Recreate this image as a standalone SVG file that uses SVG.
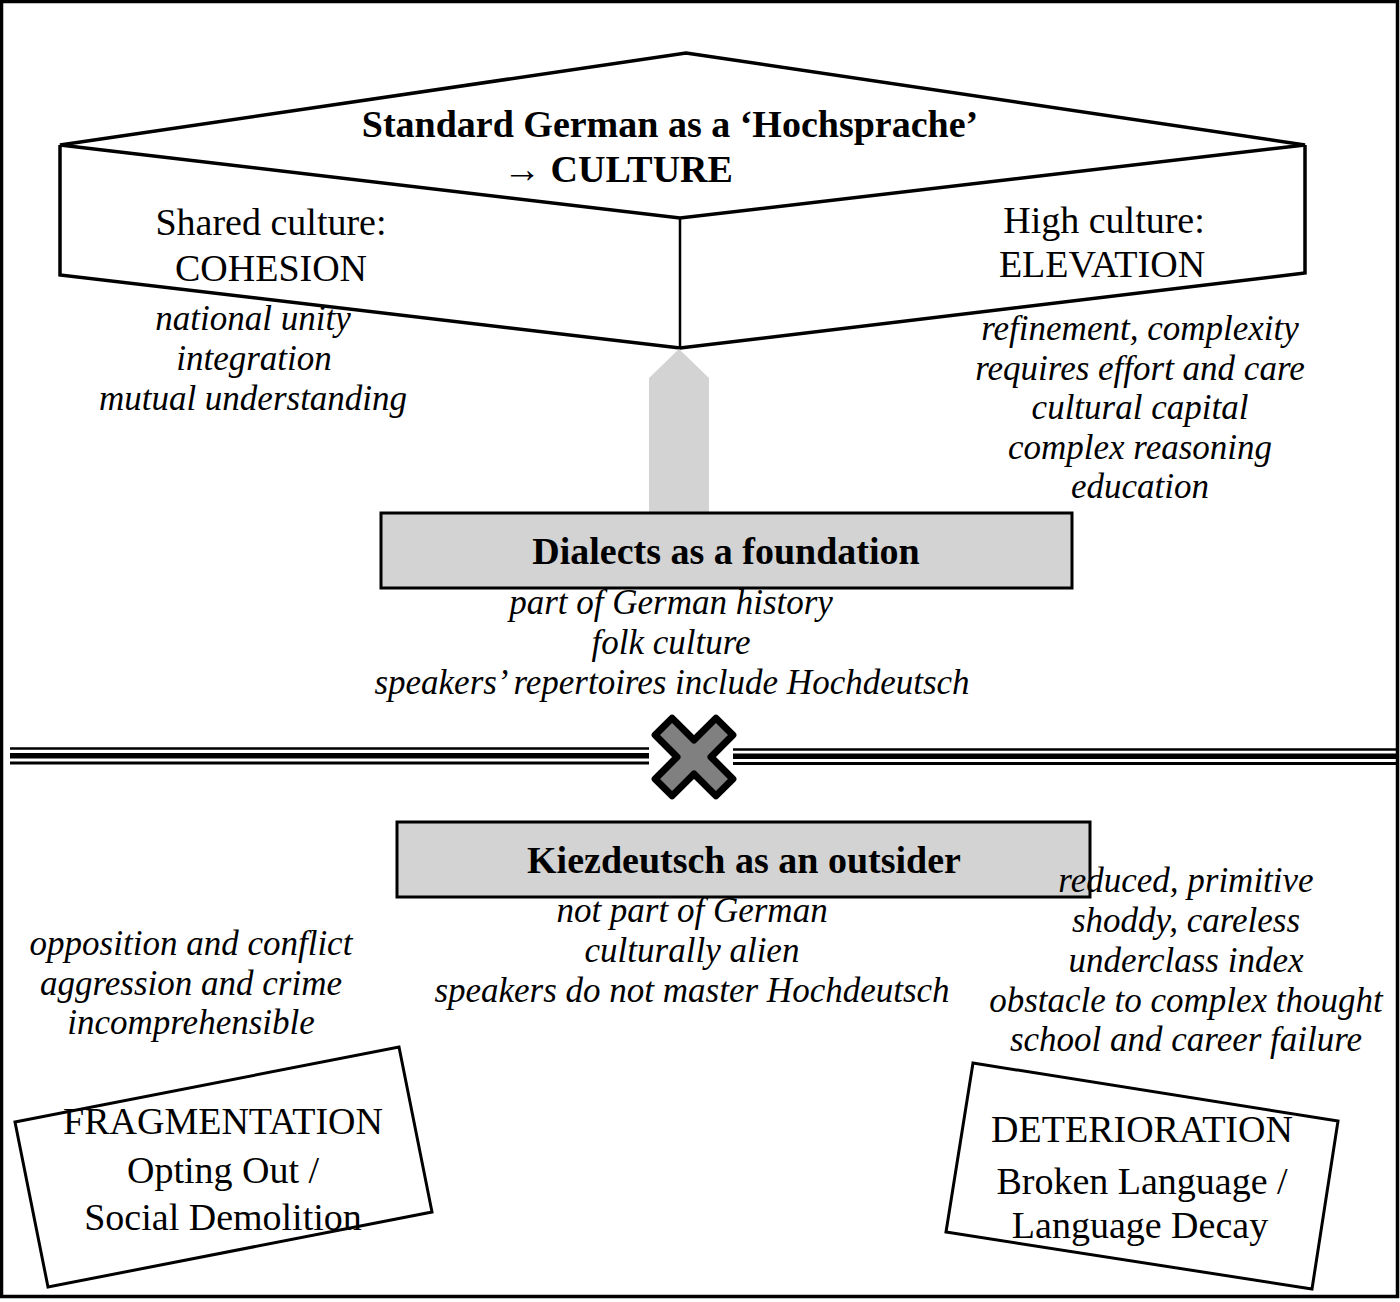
<svg xmlns="http://www.w3.org/2000/svg" width="1400" height="1302" viewBox="0 0 1400 1302">
<style>
text{font-family:"Liberation Serif","Times New Roman",serif;fill:#000;text-anchor:middle}
.b{font-weight:bold;font-size:38px}
.r{font-size:38px}
.i{font-style:italic;font-size:35px}
.ln{fill:none;stroke:#000;stroke-width:3.5;stroke-linejoin:miter}
.box{fill:#d3d3d3;stroke:#000;stroke-width:3}
.tilt{fill:#fff;stroke:#000;stroke-width:3}
</style>
<rect x="1.5" y="1.5" width="1396" height="1295" fill="#fff" stroke="#000" stroke-width="3.5"/>

<g id="standard-german">
<polygon class="ln" points="686,53 1305,145 680,218 60,145"/>
<polyline class="ln" points="60,145 60,275 680,348 1305,273 1305,145"/>
<line x1="680" y1="218" x2="680" y2="348" stroke="#000" stroke-width="2.5"/>
<text class="b" x="670" y="137">Standard German as a ‘Hochsprache’</text>
<text class="b" x="618" y="182">→ CULTURE</text>
<text class="r" x="271" y="235">Shared culture:</text>
<text class="r" x="271" y="281">COHESION</text>
<text class="r" x="1104" y="233">High culture:</text>
<text class="r" x="1102" y="277">ELEVATION</text>
</g>

<g id="cohesion-list">
<text class="i" x="253" y="330">national unity</text>
<text class="i" x="254" y="370">integration</text>
<text class="i" x="253" y="410">mutual understanding</text>
</g>

<g id="elevation-list">
<text class="i" x="1140" y="340">refinement, complexity</text>
<text class="i" x="1140" y="380">requires effort and care</text>
<text class="i" x="1140" y="419">cultural capital</text>
<text class="i" x="1140" y="459">complex reasoning</text>
<text class="i" x="1140" y="498">education</text>
</g>

<g id="connectors">
<polygon points="679,349 709,378 709,513 649,513 649,378" fill="#d3d3d3"/>
<g stroke="#000">
<line x1="10" y1="748.5" x2="649" y2="748.5" stroke-width="2.5"/>
<line x1="10" y1="755.8" x2="649" y2="755.8" stroke-width="5.5"/>
<line x1="10" y1="763" x2="649" y2="763" stroke-width="3"/>
<line x1="733" y1="749.5" x2="1398" y2="749.5" stroke-width="2.5"/>
<line x1="733" y1="756.3" x2="1398" y2="756.3" stroke-width="5.5"/>
<line x1="733" y1="763.5" x2="1398" y2="763.5" stroke-width="3"/>
</g>
<polygon points="-12,-43 12,-43 12,-12 43,-12 43,12 12,12 12,43 -12,43 -12,12 -43,12 -43,-12 -12,-12" transform="translate(694,757) rotate(45)" fill="#808080" stroke="#000" stroke-width="7" stroke-linejoin="round"/>
</g>

<g id="dialects">
<rect class="box" x="381" y="513" width="691" height="75"/>
<text class="b" x="726" y="564">Dialects as a foundation</text>
<text class="i" x="671" y="614">part of German history</text>
<text class="i" x="671" y="654">folk culture</text>
<text class="i" x="672" y="694">speakers’ repertoires include Hochdeutsch</text>
</g>

<g id="kiezdeutsch">
<rect class="box" x="397" y="822" width="693" height="75"/>
<text class="b" x="744" y="873">Kiezdeutsch as an outsider</text>
<text class="i" x="692" y="922">not part of German</text>
<text class="i" x="692" y="962">culturally alien</text>
<text class="i" x="692" y="1002">speakers do not master Hochdeutsch</text>
</g>

<g id="fragmentation-list">
<text class="i" x="191" y="955">opposition and conflict</text>
<text class="i" x="191" y="995">aggression and crime</text>
<text class="i" x="191" y="1034">incomprehensible</text>
</g>

<g id="deterioration-list">
<text class="i" x="1186" y="892">reduced, primitive</text>
<text class="i" x="1186" y="932">shoddy, careless</text>
<text class="i" x="1186" y="972">underclass index</text>
<text class="i" x="1186" y="1012">obstacle to complex thought</text>
<text class="i" x="1186" y="1051">school and career failure</text>
</g>

<g id="fragmentation">
<polygon class="tilt" points="15,1122 399,1047 432,1212 48,1287"/>
<text class="r" x="223" y="1134">FRAGMENTATION</text>
<text class="r" x="223" y="1183">Opting Out /</text>
<text class="r" x="223" y="1230">Social Demolition</text>
</g>

<g id="deterioration">
<polygon class="tilt" points="973,1063 1338,1121 1312,1289 946,1232"/>
<text class="r" x="1142" y="1142">DETERIORATION</text>
<text class="r" x="1142" y="1194">Broken Language /</text>
<text class="r" x="1140" y="1238">Language Decay</text>
</g>
</svg>
